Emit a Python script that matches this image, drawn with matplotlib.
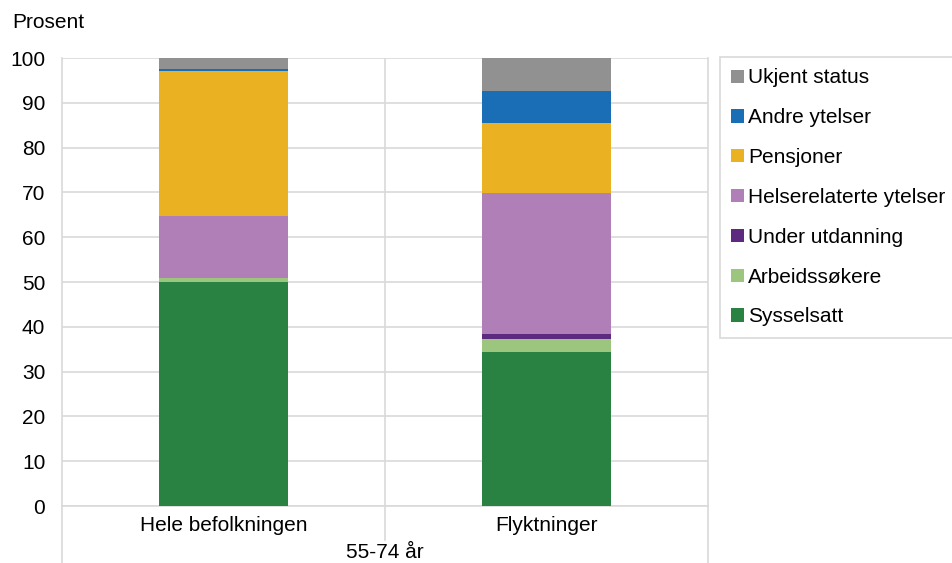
import numpy as np
import matplotlib.pyplot as plt

plt.rcParams['font.family'] = ['Liberation Sans', 'DejaVu Sans']

grupper = ['Hele befolkningen', 'Flyktninger']
gruppe_tittel = '55-74 år'
kategorier = ['Sysselsatt', 'Arbeidssøkere', 'Under utdanning', 'Helserelaterte ytelser',
              'Pensjoner', 'Andre ytelser', 'Ukjent status']
sysselsatt = [50.0, 34.3]
arbeidssokere = [1.0, 3.0]
utdanning = [0.0, 1.0]
helse = [13.8, 31.6]
pensjoner = [32.2, 15.7]
andre = [0.6, 7.1]
ukjent = [2.4, 7.3]
farger = ['#2a8242', '#9cc57d', '#5c2a7e', '#b07fb8', '#eab222', '#1a6eb5', '#919191']

serier = [sysselsatt, arbeidssokere, utdanning, helse, pensjoner, andre, ukjent]
fs = 15

fig = plt.figure(figsize=(9.52, 5.63), dpi=100)
ax = fig.add_axes([62 / 952, 1 - 506 / 563, 646 / 952, 448 / 563])

x = np.arange(len(grupper))
bunn = np.zeros(len(grupper))
handles = []
for navn, verdier, farge in zip(kategorier, serier, farger):
    b = ax.bar(x, verdier, 0.4, bottom=bunn, color=farge, label=navn, zorder=3)
    handles.append(b)
    bunn += np.array(verdier)

ax.set_xlim(-0.5, 1.5)
ax.set_ylim(0, 100)
ax.set_yticks(range(0, 101, 10))
ax.tick_params(axis='y', length=0, labelsize=fs, pad=12)
ax.tick_params(axis='x', length=0, labelsize=fs, pad=7)
ax.set_xticks(x)
ax.set_xticklabels(grupper)
ax.grid(axis='y', color='#d9d9d9', linewidth=1.2, zorder=0)
for s in ax.spines.values():
    s.set_color('#d9d9d9')
    s.set_linewidth(1.2)
ax.spines['top'].set_visible(False)

# skillelinjer under aksen
ax.plot([0.5, 0.5], [0, 1], transform=ax.transAxes, color='#d9d9d9', lw=1.2, zorder=0)
ax.plot([0.5, 0.5], [0, -0.076], transform=ax.transAxes, color='#d9d9d9', lw=1.2, clip_on=False)
for xv in [0, 1]:
    ax.plot([xv, xv], [0, -0.14], transform=ax.transAxes, color='#d9d9d9', lw=1.2, clip_on=False)
ax.text(0.5, -0.104, gruppe_tittel, transform=ax.transAxes, ha='center', va='center', fontsize=fs)

fig.text(12 / 952, 1 - 22 / 563, 'Prosent', fontsize=fs, va='center')

leg = fig.legend(handles[::-1], kategorier[::-1], loc='upper left',
                 bbox_to_anchor=(720 / 952, 1 - 57 / 563), fontsize=fs,
                 handlelength=0.6, handleheight=0.6, handletextpad=0.2,
                 labelspacing=1.0, borderpad=0.55, borderaxespad=0,
                 fancybox=False, framealpha=1)
leg.get_frame().set_edgecolor('#d9d9d9')
leg.get_frame().set_linewidth(1.2)

fig.savefig('out.png', dpi=100)
